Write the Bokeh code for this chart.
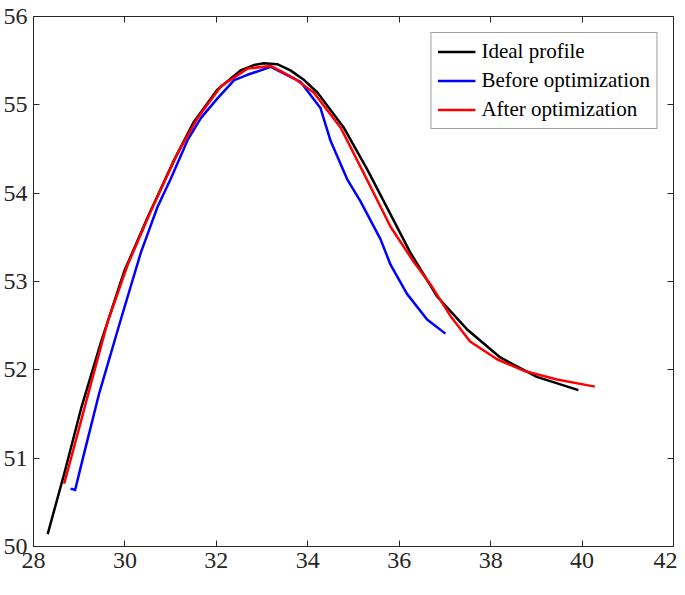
from bokeh.plotting import figure
from bokeh.models import LinearAxis, FixedTicker, Legend, LegendItem, CustomLabelingPolicy
from bokeh.embed import file_html
from bokeh.resources import INLINE

# Ideal profile
ideal_x = [28.31, 28.68, 29.04, 29.48, 29.98, 30.50, 31.08, 31.51, 32.02, 32.53,
           32.82, 33.04, 33.33, 33.62, 33.92, 34.21, 34.79, 35.30, 35.81, 36.24,
           36.83, 37.48, 38.21, 39.01, 39.92]
ideal_y = [50.14, 50.84, 51.56, 52.32, 53.11, 53.73, 54.38, 54.81, 55.17, 55.39,
           55.45, 55.47, 55.46, 55.39, 55.28, 55.14, 54.74, 54.27, 53.76, 53.33,
           52.83, 52.46, 52.14, 51.92, 51.77]

# Before optimization
before_x = [28.81, 28.86, 28.91, 29.11, 29.44, 29.91, 30.35, 30.71, 31.00, 31.37,
            31.66, 32.02, 32.39, 32.68, 33.19, 33.84, 34.28, 34.50, 34.86, 35.15,
            35.59, 35.81, 36.17, 36.61, 37.01]
before_y = [50.65, 50.65, 50.64, 51.06, 51.74, 52.57, 53.33, 53.84, 54.16, 54.60,
            54.85, 55.07, 55.28, 55.34, 55.43, 55.26, 54.96, 54.59, 54.16, 53.91,
            53.48, 53.19, 52.86, 52.57, 52.41]

# After optimization
after_x = [28.67, 28.89, 29.26, 29.62, 30.06, 30.57, 31.15, 31.59, 32.10, 32.68,
           33.19, 33.70, 34.13, 34.72, 35.22, 35.81, 36.32, 36.68, 37.12, 37.55,
           38.14, 38.72, 39.45, 40.28]
after_y = [50.71, 51.13, 51.85, 52.54, 53.19, 53.80, 54.45, 54.85, 55.21, 55.41,
           55.44, 55.30, 55.14, 54.74, 54.23, 53.62, 53.22, 52.97, 52.61, 52.32,
           52.12, 51.99, 51.89, 51.81]

x_ticks = [28, 30, 32, 34, 36, 38, 40, 42]
y_ticks = [50, 51, 52, 53, 54, 55, 56]

labels = ["Ideal profile", "Before optimization", "After optimization"]
colors = ["#000000", "#0000FF", "#FF0000"]

AX = "#262626"
FONT = "Liberation Serif"

p = figure(width=677, height=579, x_range=(28, 42), y_range=(50, 56),
           output_backend="svg", toolbar_location=None,
           x_axis_location=None, y_axis_location=None)
p.min_border_left = 0
p.min_border_right = 0
p.min_border_top = 16
p.min_border_bottom = 33
p.outline_line_color = None
p.xgrid.visible = False
p.ygrid.visible = False
p.background_fill_color = "white"
p.border_fill_color = "white"

no_labels = CustomLabelingPolicy(
    code="for (let i = 0; i < indices.size; i++) { indices.unset(i) } return indices")


def make_axis(ticks, show_labels):
    ax = LinearAxis(ticker=FixedTicker(ticks=ticks))
    ax.axis_line_color = AX
    ax.axis_line_width = 1
    ax.major_tick_in = 6
    ax.major_tick_out = 0
    ax.major_tick_line_color = AX
    ax.minor_tick_line_color = None
    ax.major_label_text_font = FONT
    ax.major_label_text_color = AX
    ax.axis_label_standoff = 0
    if show_labels:
        ax.major_label_text_font_size = "24px"
        ax.major_label_standoff = 6
    else:
        ax.major_label_text_font_size = "1px"
        ax.major_label_standoff = 0
        ax.major_label_policy = no_labels
    return ax


p.add_layout(make_axis(x_ticks, True), "below")
p.add_layout(make_axis(y_ticks, True), "left")
p.add_layout(make_axis(x_ticks, False), "above")
p.add_layout(make_axis(y_ticks, False), "right")

r_ideal = p.line(ideal_x, ideal_y, line_color=colors[0], line_width=2.5, line_join="round")
r_before = p.line(before_x, before_y, line_color=colors[1], line_width=2.5, line_join="round")
r_after = p.line(after_x, after_y, line_color=colors[2], line_width=2.5, line_join="round")

legend = Legend(items=[LegendItem(label=labels[0], renderers=[r_ideal]),
                       LegendItem(label=labels[1], renderers=[r_before]),
                       LegendItem(label=labels[2], renderers=[r_after])],
                location="top_right")
legend.margin = 16
legend.padding = 6
legend.spacing = 4
legend.glyph_width = 38
legend.glyph_height = 21
legend.label_height = 21
legend.label_standoff = 6
legend.label_text_font = FONT
legend.label_text_font_size = "21px"
legend.label_text_color = "#000000"
legend.border_line_color = "#404040"
legend.border_line_width = 1
legend.background_fill_color = "white"
legend.background_fill_alpha = 1
p.add_layout(legend, "center")

open("out.html", "w").write(file_html(p, INLINE))
